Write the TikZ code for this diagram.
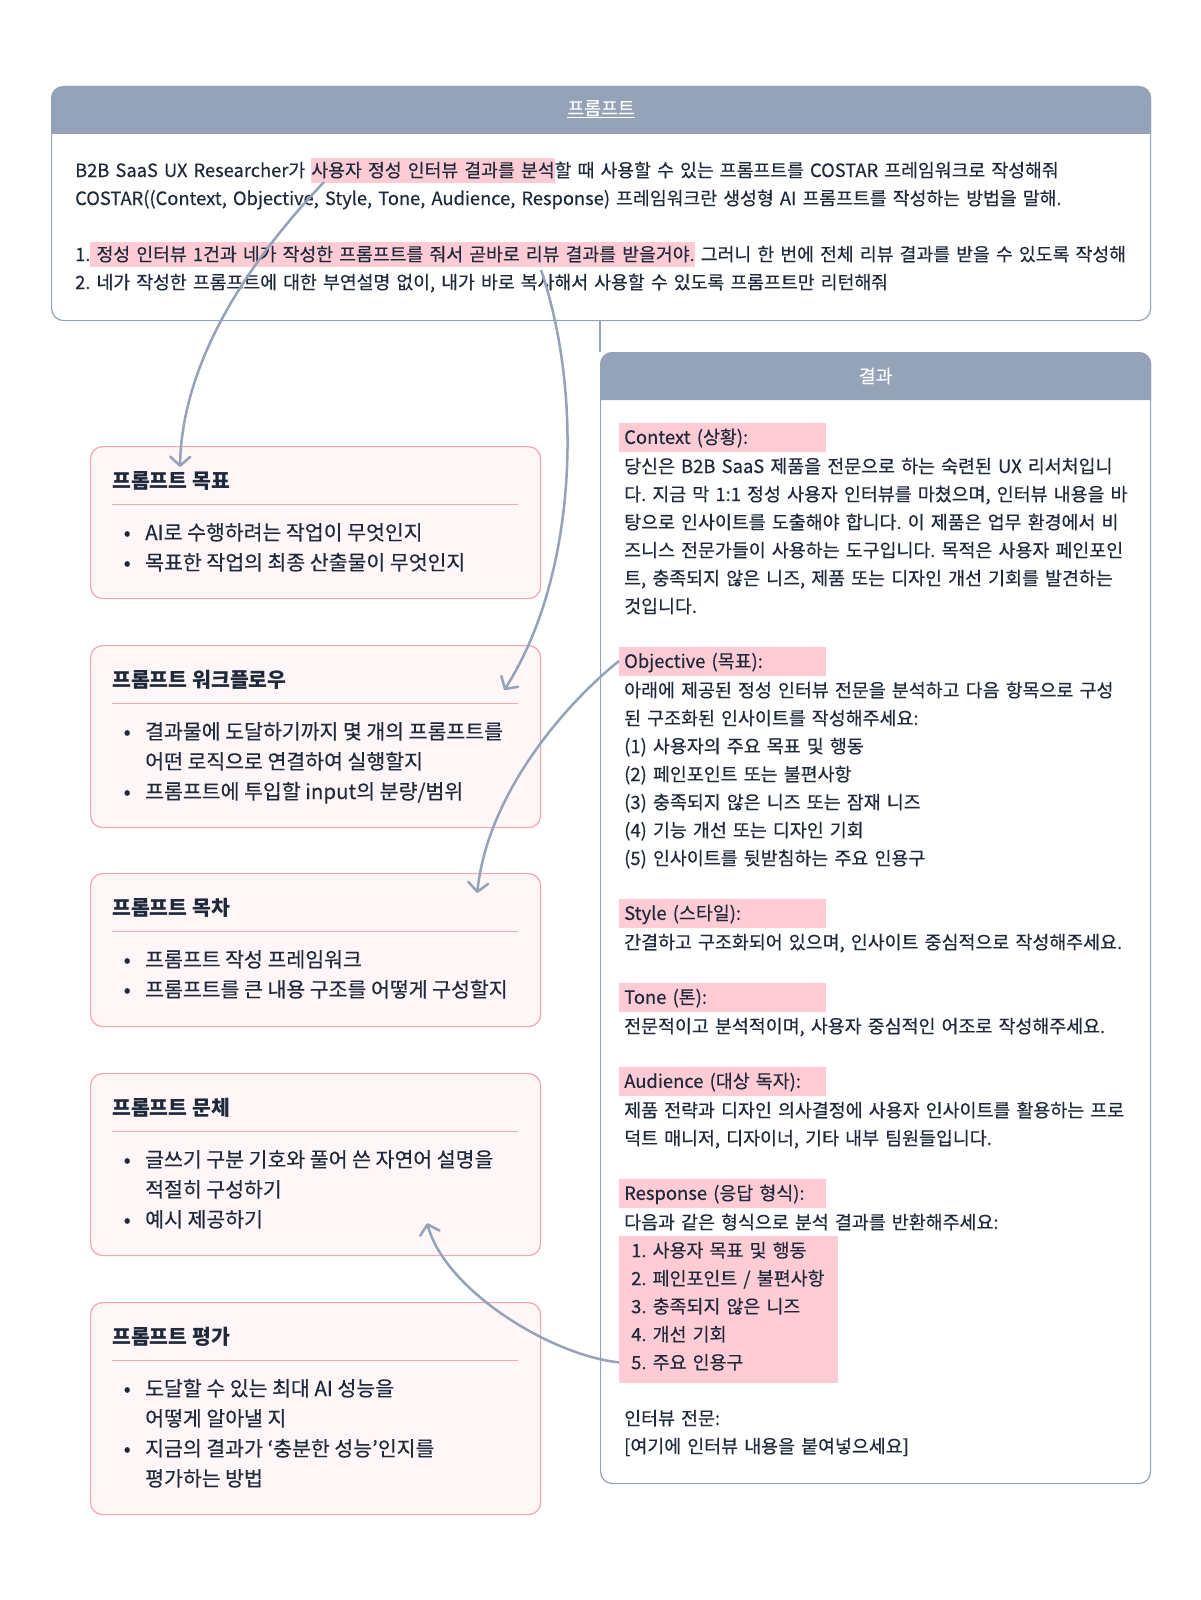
\documentclass[tikz,border=0pt]{standalone}
\usepackage{fontspec}
\setmainfont{Noto Sans CJK KR}[UprightFeatures={FakeBold=0.3}]
\usetikzlibrary{arrows.meta}

\definecolor{slate}{HTML}{94A3B8}
\definecolor{ink}{HTML}{1E293B}
\definecolor{rosefill}{HTML}{FFF6F7}
\definecolor{roseline}{HTML}{F4A5AF}
\definecolor{hl}{HTML}{FFCCD5}

% inline highlight for the prompt text
\newcommand{\hlt}[1]{{\setlength{\fboxsep}{0pt}\colorbox{hl}{\rule[-5.8pt]{0pt}{25pt}#1}}}
\newcommand{\bul}{\makebox[36pt][c]{•}}
\frenchspacing

\tikzset{
  panel/.style={draw=slate, line width=1.2pt, rounded corners=12pt, fill=white, inner sep=0pt, anchor=north west},
  head/.style={text=white, inner sep=0pt, text height=13.8pt, text depth=0pt, font=\fontsize{18.3}{21}\selectfont},
  card/.style={draw=roseline, fill=rosefill, line width=1.2pt, rounded corners=12pt, minimum width=450pt, inner sep=0pt, anchor=north west},
  cardtitle/.style={anchor=base west, inner sep=0pt, text=ink, font=\fontsize{20.5}{30}\selectfont\bfseries},
  cardrule/.style={draw=roseline, line width=1pt},
  bullets/.style={anchor=base west, inner sep=0pt, text=ink, font=\fontsize{20.5}{30}\selectfont},
  body/.style={anchor=base west, inner sep=0pt, text=ink, text width=535pt, align=left, font=\fontsize{18.4}{28}\selectfont},
  hlbox/.style={fill=hl, anchor=west, inner xsep=5pt, inner ysep=0pt, text width=197pt, align=left, minimum height=29pt, text height=15pt, text depth=1.2pt, text=ink, font=\fontsize{18.4}{28}\selectfont},
  link/.style={draw=slate, line width=2.5pt, -{Straight Barb[length=9pt,width=20pt,round]}},
}

\begin{document}
\begin{tikzpicture}[x=1pt, y=-1pt]
    \useasboundingbox (0,0) rectangle (1200,1600);
    \fill[white] (0,0) rectangle (1200,1600);

    % prompt panel
    \node[panel, minimum width=1099pt, minimum height=234pt] (prompt) at (51,86) {};
    \fill[slate] ([yshift=-48pt]prompt.north west) [rounded corners=12pt] -- (prompt.north west) -- (prompt.north east) [sharp corners] -- ([yshift=-48pt]prompt.north east) -- cycle;
    \node[head] (prompthead) at ([yshift=-22pt]prompt.north) {\underline{프롬프트}};
    \node[body, text width=1090pt, font=\fontsize{18.3}{28}\selectfont] (prompttext) at (75,177) {
        B2B SaaS UX Researcher가 \hlt{사용자 정성 인터뷰 결과를 분석}할 때 사용할 수 있는 프롬프트를 COSTAR 프레임워크로 작성해줘\\
        COSTAR((Context, Objective, Style, Tone, Audience, Response) 프레임워크란 생성형 AI 프롬프트를 작성하는 방법을 말해.\\[28pt]
        1.\hlt{ 정성 인터뷰 1건과 네가 작성한 프롬프트를 줘서 곧바로 리뷰 결과를 받을거야.} 그러니 한 번에 전체 리뷰 결과를 받을 수 있도록 작성해\\
        2. 네가 작성한 프롬프트에 대한 부연설명 없이, 내가 바로 복사해서 사용할 수 있도록 프롬프트만 리턴해줘
    };
    \coordinate (hlgoal) at (324,182);
    \coordinate (hlflow) at (541,270);

    % result panel
    \node[panel, minimum width=550pt, minimum height=1131pt] (result) at (600,352) {};
    \fill[slate] ([yshift=-48pt]result.north west) [rounded corners=12pt] -- (result.north west) -- (result.north east) [sharp corners] -- ([yshift=-48pt]result.north east) -- cycle;
    \node[head] (resulthead) at ([yshift=-24pt]result.north) {결과};
    \draw[slate, line width=1.2pt] (prompt.south -| result.west) -- (result.north west);

    \node[hlbox] (ctxlabel) at (619,437) {Context (상황):};
    \node[body] (ctxtext) at (624,473) {
        당신은 B2B SaaS 제품을 전문으로 하는 숙련된 UX 리서처입니\\
        다. 지금 막 1:1 정성 사용자 인터뷰를 마쳤으며, 인터뷰 내용을 바\\
        탕으로 인사이트를 도출해야 합니다. 이 제품은 업무 환경에서 비\\
        즈니스 전문가들이 사용하는 도구입니다. 목적은 사용자 페인포인\\
        트, 충족되지 않은 니즈, 제품 또는 디자인 개선 기회를 발견하는\\
        것입니다.
    };
    \node[hlbox] (objlabel) at (619,661) {Objective (목표):};
    \node[body] (objtext) at (624,697) {
        아래에 제공된 정성 인터뷰 전문을 분석하고 다음 항목으로 구성\\
        된 구조화된 인사이트를 작성해주세요:\\
        (1) 사용자의 주요 목표 및 행동\\
        (2) 페인포인트 또는 불편사항\\
        (3) 충족되지 않은 니즈 또는 잠재 니즈\\
        (4) 기능 개선 또는 디자인 기회\\
        (5) 인사이트를 뒷받침하는 주요 인용구
    };
    \node[hlbox] (stylabel) at (619,913) {Style (스타일):};
    \node[body] (stytext) at (624,949) {간결하고 구조화되어 있으며, 인사이트 중심적으로 작성해주세요.};
    \node[hlbox] (tonelabel) at (619,997) {Tone (톤):};
    \node[body] (tonetext) at (624,1033) {전문적이고 분석적이며, 사용자 중심적인 어조로 작성해주세요.};
    \node[hlbox] (audlabel) at (619,1081) {Audience (대상 독자):};
    \node[body] (audtext) at (624,1117) {
        제품 전략과 디자인 의사결정에 사용자 인사이트를 활용하는 프로\\
        덕트 매니저, 디자이너, 기타 내부 팀원들입니다.
    };
    \node[hlbox] (resplabel) at (619,1193) {Response (응답 형식):};
    \node[body] (resptext) at (624,1229) {다음과 같은 형식으로 분석 결과를 반환해주세요:};
    \node[body, fill=hl, anchor=north west, inner xsep=12pt, text width=195pt, text height=21pt, text depth=126pt] (resplist) at (619,1236) {
        1. 사용자 목표 및 행동\\
        2. 페인포인트 / 불편사항\\
        3. 충족되지 않은 니즈\\
        4. 개선 기회\\
        5. 주요 인용구
    };
    \node[body] (rawtext) at (624,1425) {
        인터뷰 전문:\\
        {[}여기에 인터뷰 내용을 붙여넣으세요{]}
    };

    % prompt cards
    \node[card, minimum height=152pt] (pgoal) at (90,446) {};
    \node[card, minimum height=182pt] (pflow) at (90,645) {};
    \node[card, minimum height=153pt] (ptoc) at (90,873) {};
    \node[card, minimum height=182pt] (pstyle) at (90,1073) {};
    \node[card, minimum height=212pt] (peval) at (90,1302) {};
    \foreach \y in {504,703,931,1131,1360} {
        \draw[cardrule] (112,\y) -- (518,\y);
    }

    \node[cardtitle] (goaltitle) at (112,488) {프롬프트 목표};
    \node[bullets] (goallist) at (109,540) {
        \begin{tabular}[t]{@{}l@{}l@{}}
            \bul & AI로 수행하려는 작업이 무엇인지 \\
            \bul & 목표한 작업의 최종 산출물이 무엇인지
        \end{tabular}
    };
    \node[cardtitle] (flowtitle) at (112,687) {프롬프트 워크플로우};
    \node[bullets] (flowlist) at (109,739) {
        \begin{tabular}[t]{@{}l@{}l@{}}
            \bul & 결과물에 도달하기까지 몇 개의 프롬프트를 \\
                 & 어떤 로직으로 연결하여 실행할지 \\
            \bul & 프롬프트에 투입할 input의 분량/범위
        \end{tabular}
    };
    \node[cardtitle] (toctitle) at (112,915) {프롬프트 목차};
    \node[bullets] (toclist) at (109,967) {
        \begin{tabular}[t]{@{}l@{}l@{}}
            \bul & 프롬프트 작성 프레임워크 \\
            \bul & 프롬프트를 큰 내용 구조를 어떻게 구성할지
        \end{tabular}
    };
    \node[cardtitle] (styletitle) at (112,1115) {프롬프트 문체};
    \node[bullets] (stylelist) at (109,1167) {
        \begin{tabular}[t]{@{}l@{}l@{}}
            \bul & 글쓰기 구분 기호와 풀어 쓴 자연어 설명을 \\
                 & 적절히 구성하기 \\
            \bul & 예시 제공하기
        \end{tabular}
    };
    \node[cardtitle] (evaltitle) at (112,1344) {프롬프트 평가};
    \node[bullets] (evallist) at (109,1396) {
        \begin{tabular}[t]{@{}l@{}l@{}}
            \bul & 도달할 수 있는 최대 AI 성능을 \\
                 & 어떻게 알아낼 지 \\
            \bul & 지금의 결과가 ‘충분한 성능’인지를 \\
                 & 평가하는 방법
        \end{tabular}
    };

    % links
    \draw[link] (hlgoal) .. controls (250,260) and (182,360) .. ([xshift=90pt,yshift=-21pt]pgoal.north west);
    \draw[link] (hlflow) .. controls (585,400) and (575,580) .. ([xshift=-37pt,yshift=-45pt]pflow.north east);
    \draw[link] (objlabel.west) .. controls (570,700) and (488,790) .. ([xshift=-64pt,yshift=-20pt]ptoc.north east);
    \draw[link] ([yshift=21pt]resplist.south west) .. controls (550,1355) and (445,1290) .. ([xshift=-114pt,yshift=33pt]pstyle.south east);
\end{tikzpicture}
\end{document}
